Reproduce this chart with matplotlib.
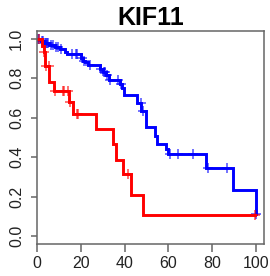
import matplotlib
matplotlib.use('Agg')
import matplotlib.pyplot as plt

plt.rcParams['font.family'] = ['Liberation Sans', 'DejaVu Sans']

TITLE = 'KIF11'

# blue group: step times and survival after each step
blue_times = [1.5, 3.0, 5.5, 8.0, 10.5, 12.5, 13.4, 20.0, 21.0, 22.0, 23.3, 28.7,
              30.0, 31.5, 33.0, 38.0, 38.8, 39.5, 45.4, 47.5, 49.6, 53.8, 54.9,
              58.8, 59.9, 77.3, 89.3, 99.9]
blue_surv = [0.99, 0.98, 0.97, 0.96, 0.95, 0.935, 0.922, 0.905, 0.89, 0.88, 0.866,
             0.845, 0.83, 0.815, 0.79, 0.77, 0.752, 0.714, 0.674, 0.632, 0.552,
             0.506, 0.467, 0.442, 0.416, 0.347, 0.234, 0.112]
blue_censor = [0.5, 1.0, 2.0, 2.5, 3.5, 4.0, 4.5, 5.0, 6.5, 7.0, 8.5, 9.5, 11.0,
               15.7, 17.7, 18.3, 20.5, 21.5, 24.0, 29.0, 30.5, 31.0, 32.0, 33.2,
               37.0, 38.3, 47.3, 48.5, 60.5, 64.5, 71.3, 78.2, 86.6, 100.0]
blue_end = 100.0

# red group
red_times = [2.0, 3.0, 3.6, 5.5, 7.5, 14.4, 16.5, 27.0, 34.6, 35.8, 39.0, 42.8, 48.3]
red_surv = [0.966, 0.932, 0.864, 0.78, 0.737, 0.682, 0.62, 0.542, 0.466, 0.387,
            0.314, 0.21, 0.105]
red_censor = [0.8, 3.3, 4.2, 5.2, 8.1, 11.6, 12.3, 14.0, 14.8, 18.0, 18.7, 41.6, 99.4]
red_end = 99.6


def surv_at(t, times, surv):
    s = 1.0
    for ti, si in zip(times, surv):
        if ti <= t:
            s = si
    return s


def draw_km(ax, times, surv, censor, end, color):
    xs = [0.0] + times + [end]
    ys = [1.0] + surv + [surv[-1]]
    ax.step(xs, ys, where='post', color=color, lw=2.1, solid_joinstyle='miter')
    cy = [surv_at(t, times, surv) for t in censor]
    ax.plot(censor, cy, ls='none', marker='+', ms=6.5, mew=1.1, color=color, alpha=0.7)


fig = plt.figure(figsize=(2.7, 2.76), dpi=100)
ax = fig.add_axes([0.138, 0.116, 0.840, 0.772])

draw_km(ax, blue_times, blue_surv, blue_censor, blue_end, '#0000ff')
draw_km(ax, red_times, red_surv, red_censor, red_end, '#ff0000')

ax.set_xlim(0, 103.7)
ax.set_ylim(-0.04, 1.04)
ax.set_xticks([0, 20, 40, 60, 80, 100])
ax.set_yticks([0.0, 0.2, 0.4, 0.6, 0.8, 1.0])
ax.set_yticklabels(['0.0', '0.2', '0.4', '0.6', '0.8', '1.0'], rotation=90, va='center')

for sp in ax.spines.values():
    sp.set_color('#666666')
    sp.set_linewidth(1.1)
ax.tick_params(axis='x', length=6, width=1.1, color='#666666', labelsize=11.5,
               labelcolor='#222222', pad=2.5)
ax.tick_params(axis='y', length=4.5, width=1.1, color='#666666', labelsize=11.5,
               labelcolor='#222222', pad=5)

ax.set_title(TITLE, fontsize=18, fontweight='bold', pad=4)

fig.savefig('out.png', dpi=100)
